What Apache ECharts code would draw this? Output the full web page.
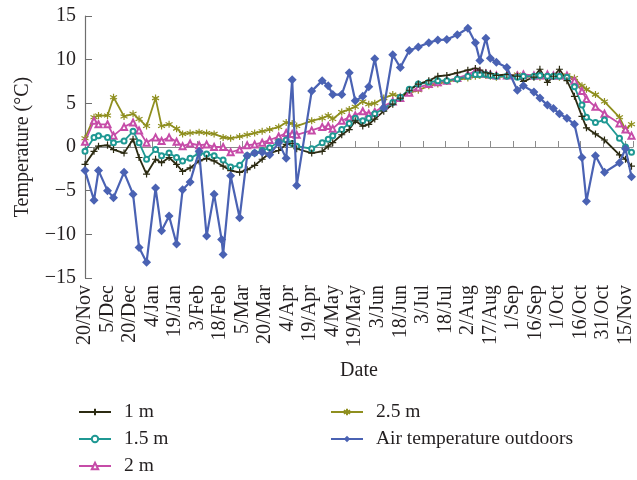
<!DOCTYPE html>
<html>
<head>
<meta charset="utf-8">
<script src="https://cdn.jsdelivr.net/npm/echarts@6/dist/echarts.min.js"></script>
<style>
  html, body { margin: 0; padding: 0; background: #ffffff; }
  #chart { width: 637px; height: 480px; }
</style>
</head>
<body>
<div id="chart"></div>
<script>
// Measurement day, counted from 20/Nov
const days = [0, 6, 9, 15, 19, 26, 32, 36, 41, 47, 51, 56, 61, 65, 70, 76, 81, 86, 91, 92,
  97, 103, 108, 113, 118, 123, 129, 134, 138, 141, 151, 158, 162, 165, 171, 176, 180, 185, 189, 193,
  199, 205, 210, 216, 222, 229, 235, 241, 248, 255, 260, 263, 267, 270, 274, 281, 288, 292, 299, 303,
  308, 312, 316, 321, 326, 331, 334, 340, 346, 356, 360, 364];

// Soil temperature at 1 m depth (°C)
const depth1m = [-2.0, -0.5, 0.1, 0.2, -0.3, -0.7, 0.9, -1.2, -3.1, -1.4, -1.8, -1.2, -2.0, -2.8, -2.4, -1.6, -1.3, -1.6, null, -2.2,
  -2.7, -2.9, -2.6, -2.1, -1.4, -0.7, -0.4, 0.3, 0.4, -0.2, -0.7, -0.5, 0.1, 0.5, 1.4, 2.0, 3.0, 2.4, 2.6, 3.2,
  4.1, 4.9, 5.6, 6.5, 7.2, 7.6, 8.1, 8.2, 8.5, 8.8, 9.0, 8.8, 8.5, 8.4, 8.2, 8.3, 8.1, 7.5, 8.0, 8.9,
  7.4, 8.1, 8.9, 7.6, 5.8, 3.5, 2.2, 1.5, 0.8, -0.9, -1.4, -2.2];

// Soil temperature at 1.5 m depth (°C)
const depth15m = [-0.5, 1.1, 1.3, 1.1, 0.5, 0.7, 1.8, 0.5, -1.4, -0.3, -1.0, -0.7, -1.2, -1.6, -1.3, -0.7, -0.8, -1.0, null, -1.5,
  -2.3, -2.1, -1.0, -0.7, -0.4, -0.1, 0.6, 0.8, 0.4, 0.1, -0.2, 0.5, 0.9, 1.3, 2.0, 2.7, 3.3, 3.0, 3.3, 3.8,
  4.4, 5.1, 5.7, 6.6, 7.2, 7.4, 7.6, 7.6, 7.8, 8.1, 8.3, 8.3, 8.3, 8.2, 8.1, 8.1, 8.0, 8.1, 8.1, 8.2,
  8.1, 8.1, 8.1, 8.0, 6.9, 4.8, 3.4, 2.8, 3.1, 1.0, 0.0, -0.6];

// Soil temperature at 2 m depth (°C)
const depth2m = [0.6, 3.0, 2.6, 2.6, 1.3, 2.3, 2.8, 1.9, 0.5, 1.1, 0.7, 1.1, 0.6, 0.1, 0.4, 0.2, 0.3, 0.0, null, 0.0,
  -0.6, -0.3, 0.2, 0.3, 0.5, 0.8, 1.2, 1.6, 1.5, 1.4, 1.9, 2.3, 2.4, 2.1, 3.0, 3.4, 3.6, 4.1, 3.8, 4.0,
  4.7, 5.2, 5.6, 6.2, 6.8, 7.2, 7.4, 7.6, 7.9, 8.3, 8.7, 8.6, 8.4, 8.3, 8.2, 8.2, 8.2, 8.3, 8.2, 8.2,
  8.3, 8.2, 8.2, 8.2, 7.6, 6.4, 5.5, 4.6, 3.8, 2.7, 2.0, 1.3];

// Soil temperature at 2.5 m depth (°C)
const depth25m = [1.0, 3.4, 3.6, 3.6, 5.7, 3.5, 3.8, 3.2, 2.4, 5.6, 2.4, 2.6, 2.1, 1.5, 1.6, 1.7, 1.6, 1.5, null, 1.1,
  1.0, 1.2, 1.4, 1.6, 1.8, 2.0, 2.3, 2.8, 2.7, 2.4, 3.0, 3.3, 3.6, 3.2, 4.0, 4.3, 4.6, 5.2, 4.9, 5.0,
  5.6, 6.0, 5.8, 6.2, 6.5, 7.0, 7.2, 7.5, 7.7, 7.9, 8.1, 8.2, 8.2, 8.1, 8.0, 8.1, 8.3, 8.0, 8.1, 8.0,
  8.1, 8.1, 8.0, 8.2, 7.9, 7.0, 6.6, 6.0, 5.2, 3.4, 2.0, 2.6];

// Outdoor air temperature (°C)
const airOutdoors = [-2.7, -6.1, -2.7, -5.0, -5.8, -2.9, -5.4, -11.5, -13.2, -4.7, -9.6, -7.9, -11.1, -4.9, -4.0, -0.5, -10.2, -5.4, -10.6, -12.3,
  -3.3, -8.1, -1.0, -0.7, -0.6, -0.9, 0.5, -1.3, 7.7, -4.4, 6.4, 7.6, 7.0, 6.0, 6.0, 8.5, 5.3, 5.8, 6.9, 10.1,
  4.5, 10.55, 9.1, 11.05, 11.45, 11.95, 12.25, 12.3, 12.85, 13.6, 11.95, 9.9, 12.45, 10.15, 9.7, 9.1, 6.5, 7.0, 6.3, 5.6,
  4.8, 4.4, 3.8, 3.3, 2.6, -1.2, -6.2, -1.0, -2.9, -1.8, -0.2, -3.4];

// Date labels, one every 15 days
const tickLabels = ['20/Nov', '5/Dec', '20/Dec', '4/Jan', '19/Jan', '3/Feb', '18/Feb', '5/Mar', '20/Mar',
  '4/Apr', '19/Apr', '4/May', '19/May', '3/Jun', '18/Jun', '3/Jul', '18/Jul', '2/Aug', '17/Aug',
  '1/Sep', '16/Sep', '1/Oct', '16/Oct', '31/Oct', '15/Nov'];

const FONT = "'Liberation Serif', 'DejaVu Serif', serif";
const TEXT = '#231f20';

const pairs = arr => days.map((d, i) => [d, arr[i]]);

const plusPath = 'path://M0,5L10,5M5,0L5,10';
const starPath = 'path://M5,0L5,10M0.67,2.5L9.33,7.5M0.67,7.5L9.33,2.5';

function soil(name, values, color, symbol, size) {
  return {
    name: name,
    type: 'line',
    data: pairs(values),
    connectNulls: true,
    symbol: symbol,
    symbolSize: size,
    showAllSymbol: true,
    lineStyle: { color: color, width: 1.8 },
    itemStyle: { color: color, borderColor: color, borderWidth: 1.2 },
    emphasis: { disabled: true },
    z: 2
  };
}

// One legend block per entry, laid out in two columns
function legendItem(name, left, centerY) {
  return {
    data: [name],
    left: left, top: centerY - 11,
    padding: 0,
    itemWidth: 32, itemHeight: 8,
    textStyle: { fontFamily: FONT, fontSize: 19.5, lineHeight: 22, color: TEXT, padding: [0, 0, 0, 8] }
  };
}

const chart = echarts.init(document.getElementById('chart'), null, { renderer: 'canvas' });

chart.setOption({
  backgroundColor: '#ffffff',
  animation: false,
  textStyle: { fontFamily: FONT, color: TEXT },
  grid: { left: 85, right: 4, top: 16, bottom: 202 },
  legend: [
    legendItem('1 m', 78, 412),
    legendItem('1.5 m', 78, 439),
    legendItem('2 m', 78, 466),
    legendItem('2.5 m', 330, 412),
    legendItem('Air temperature outdoors', 330, 439)
  ],
  xAxis: [
    {
      type: 'value', min: 0, max: 365, interval: 15, position: 'bottom',
      axisLine: { show: false, onZero: false },
      axisTick: { show: false },
      splitLine: { show: false },
      axisLabel: {
        rotate: 90, margin: 7, fontSize: 20, color: TEXT, fontFamily: FONT,
        showMaxLabel: false,
        formatter: v => tickLabels[v / 15] || ''
      },
      name: 'Date', nameLocation: 'middle', nameGap: 83,
      nameTextStyle: { fontSize: 20, color: TEXT, fontFamily: FONT }
    },
    {
      type: 'value', min: 0, max: 365, interval: 15, position: 'bottom',
      axisLine: { show: true, onZero: true, lineStyle: { color: '#8c8c8c', width: 1.2 } },
      axisTick: { show: true, inside: true, length: 6, lineStyle: { color: '#8c8c8c' } },
      axisLabel: { show: false },
      splitLine: { show: false }
    }
  ],
  yAxis: {
    type: 'value', min: -15, max: 15, interval: 5,
    axisLine: { show: true, onZero: false, lineStyle: { color: '#6e6e6e', width: 1.2 } },
    axisTick: { show: true, inside: true, length: 7, lineStyle: { color: '#6e6e6e' } },
    splitLine: { show: false },
    axisLabel: {
      fontSize: 20, color: TEXT, fontFamily: FONT, margin: 9,
      formatter: v => (v < 0 ? '\u2212' + Math.abs(v) : String(v))
    },
    name: 'Temperature (\u00B0C)', nameLocation: 'middle', nameGap: 52, nameRotate: 90,
    nameTextStyle: { fontSize: 20, color: TEXT, fontFamily: FONT }
  },
  series: [
    soil('2.5 m', depth25m, '#8f8f1f', starPath, 7),
    soil('2 m', depth2m, '#c64ca8', 'emptyTriangle', 6),
    soil('1.5 m', depth15m, '#1f9893', 'emptyCircle', 5),
    soil('1 m', depth1m, '#2c2b12', plusPath, 7),
    {
      name: 'Air temperature outdoors',
      type: 'line',
      data: pairs(airOutdoors),
      symbol: 'diamond',
      symbolSize: 9,
      showAllSymbol: true,
      lineStyle: { color: '#4a62b3', width: 2.2 },
      itemStyle: { color: '#4a62b3' },
      emphasis: { disabled: true },
      z: 3
    }
  ]
});
</script>
</body>
</html>
